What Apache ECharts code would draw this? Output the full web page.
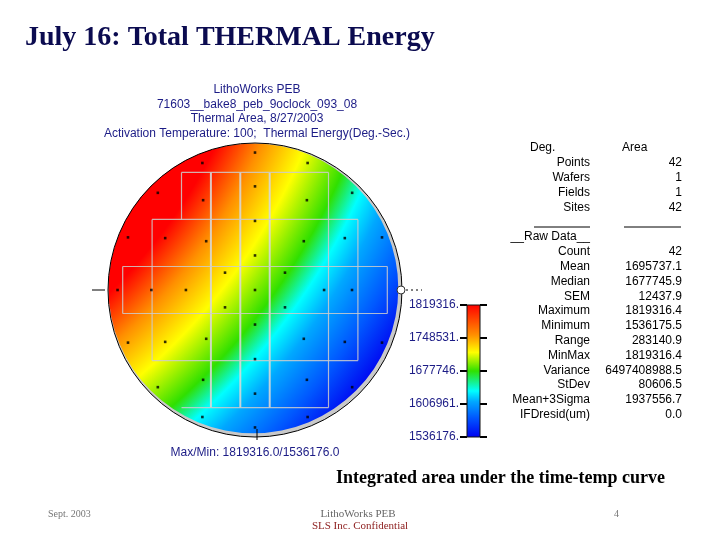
<!DOCTYPE html>
<html><head><meta charset="utf-8">
<script src="https://cdn.jsdelivr.net/npm/echarts@6/dist/echarts.min.js"></script>
<style>html,body{margin:0;padding:0;background:#fff}#c{width:720px;height:540px}</style>
</head><body><div id="c"></div>
<script>
// ---- data (wafer coordinates in mm, wafer radius 100) ----
const siteX = [0,
  20.4, 0, -20.4, -20.4, 0, 20.4,
  47, 33.2, 0, -33.2, -47, -33.2, 0, 33.2,
  66, 61.1, 35.3, 0, -35.3, -61.1, -70.5, -61.1, -35.3, 0, 35.3, 61.1,
  86.4, 66.1, 35.8, 0, -35.8, -66.1, -86.4, -93.5, -86.4, -66.1, -35.8, 0, 35.8, 66.1, 86.4];
const siteY = [0,
  11.8, 23.5, 11.8, -11.8, -23.5, -11.8,
  0, 33.2, 47, 33.2, 0, -33.2, -47, -33.2,
  0, 35.3, 61.1, 70.5, 61.1, 35.3, 0, -35.3, -61.1, -70.5, -61.1, -35.3,
  35.8, 66.1, 86.4, 93.5, 86.4, 66.1, 35.8, 0, -35.8, -66.1, -86.4, -93.5, -86.4, -66.1, -35.8];
const siteValues = [1693300,
  1680500, 1710600, 1721600, 1704900, 1672100, 1649400,
  1621100, 1680600, 1723000, 1748500, 1737200, 1700400, 1635300, 1612600,
  1598600, 1629600, 1697600, 1737200, 1774000, 1785300, 1757000, 1721600, 1674900, 1615400, 1590000, 1581500,
  1601300, 1649400, 1708900, 1748500, 1796700, 1819316.4, 1816000, 1785300, 1740000, 1700400, 1632400, 1592800, 1564500, 1536175.5, 1550300];

// field grid segments: vertical [x, y1, y2], horizontal [y, x1, x2]
const fieldVLines = [[-90,16,-16],[-70,48,-48],[-50,80,48],[-30,80,-80],[-10,80,-80],[10,80,-80],[50,80,-80],[70,48,-48],[90,16,-16]];
const fieldHLines = [[80,-50,50],[48,-70,70],[16,-90,90],[-16,-90,90],[-48,-70,70],[-80,-50,50]];

// colour scale (bottom -> top of colour bar)
const colorbarTickLabels = ['1536176.','1606961.','1677746.','1748531.','1819316.'];
const scaleColors = ['#0000f0','#0058ff','#00a8ff','#00ffff','#30e000','#ffff00','#ff9000','#ff0000'];
const scaleStops  = [0, 0.15, 0.27, 0.35, 0.5, 0.64, 0.77, 1];
// surface: distance (mm) from the gradient focus at which each scale colour lies
const surfaceFocus = [-347, 254];
const surfaceContourDist = [531, 503, 476, 459, 442, 412, 384, 356];

const titleText = 'July 16: Total THERMAL Energy';
const headerLines = ['LithoWorks PEB','71603__bake8_peb_9oclock_093_08','Thermal Area, 8/27/2003','Activation Temperature: 100;  Thermal Energy(Deg.-Sec.)'];
const statLabels = ['Points','Wafers','Fields','Sites','','__Raw Data__','Count','Mean','Median','SEM','Maximum','Minimum','Range','MinMax','Variance','StDev','Mean+3Sigma','IFDresid(um)'];
const statValues = ['42','1','1','42','','','42','1695737.1','1677745.9','12437.9','1819316.4','1536175.5','283140.9','1819316.4','6497408988.5','80606.5','1937556.7','0.0'];
const maxMinText = 'Max/Min: 1819316.0/1536176.0';
const captionText = 'Integrated area under the time-temp curve';
const footer = {date:'Sept. 2003', product:'LithoWorks PEB', conf:'SLS Inc. Confidential', page:'4'};

// ---- chart ----
const chart = echarts.init(document.getElementById('c'), null, {renderer:'canvas'});
const navy = '#1c1c86';
const gradR = surfaceContourDist[0];

function waferItem(params, api){
  const c = api.coord([0,0]);
  const r = api.size([100,0])[0];
  const f = api.coord(surfaceFocus);
  const gr = api.size([gradR,0])[0];
  const off = api.size([1.1,0])[0];
  const stops = [{offset:0, color:scaleColors[scaleColors.length-1]}];
  for (let i = surfaceContourDist.length-1; i >= 0; i--) {
    stops.push({offset: surfaceContourDist[i]/gradR, color: scaleColors[i]});
  }
  return {type:'group', children:[
    {type:'circle', shape:{cx:c[0], cy:c[1], r:r}, style:{fill:'#c9c9c9'}},
    {type:'circle', shape:{cx:c[0]-off, cy:c[1]-off, r:r-off*1.3},
      style:{fill:{type:'radial', x:f[0], y:f[1], r:gr, global:true, colorStops:stops}}},
    {type:'circle', shape:{cx:c[0], cy:c[1], r:r}, style:{fill:null, stroke:'#000', lineWidth:1}},
    {type:'circle', shape:{cx:c[0]+r-1, cy:c[1], r:4}, style:{fill:'#fff', stroke:'#333', lineWidth:1}},
    {type:'line', shape:{x1:c[0]-r-16, y1:c[1], x2:c[0]-r-3, y2:c[1]}, style:{stroke:'#000', lineWidth:1}},
    {type:'line', shape:{x1:c[0]+r+4, y1:c[1], x2:c[0]+r+20, y2:c[1]}, style:{stroke:'#000', lineWidth:1, lineDash:[2,3]}},
    {type:'line', shape:{x1:c[0]+2, y1:c[1]+r-8, x2:c[0]+2, y2:c[1]+r+3}, style:{stroke:'#000', lineWidth:1}}
  ]};
}

function fieldItem(params, api){
  const x1 = api.value(0), y1 = api.value(1), x2 = api.value(2), y2 = api.value(3);
  const p1 = api.coord([x1,y1]), p2 = api.coord([x2,y2]);
  const thick = (x1 === x2 && Math.abs(x1) <= 30 && x1 !== 30);
  return {type:'line', shape:{x1:p1[0], y1:p1[1], x2:p2[0], y2:p2[1]},
    style:{stroke: thick ? 'rgba(215,215,215,0.9)' : 'rgba(205,205,205,0.85)', lineWidth: thick ? 2 : 1.2}};
}

function barItem(params, api){
  const p1 = api.coord([0, api.value(1)]);
  const p2 = api.coord([1, api.value(2)]);
  const stops = scaleStops.map((s,i)=>({offset:s, color:scaleColors[i]}));
  return {type:'rect', shape:{x:p1[0], y:p2[1], width:p2[0]-p1[0], height:p1[1]-p2[1]},
    style:{fill:{type:'linear', x:0, y:1, x2:0, y2:0, colorStops:stops}, stroke:'#111', lineWidth:1}};
}

const fieldData = fieldVLines.map(s=>[s[0],s[1],s[0],s[2]]).concat(fieldHLines.map(s=>[s[1],s[0],s[2],s[0]]));
const siteData = siteX.map((x,i)=>[x, siteY[i], siteValues[i]]);

const sans = '"Liberation Sans", Arial, sans-serif';
const graphics = [];
graphics.push({type:'text', x:25, y:38, style:{text:titleText, font:'bold 28px "Liberation Serif", serif', fill:'#0b0b50', textVerticalAlign:'middle'}});
const headerY = [90,105,119,134];
headerLines.forEach((t,i)=>graphics.push({type:'text', x:257, y:headerY[i], style:{text:t, font:'12px ' + sans, fill:navy, textAlign:'center', textVerticalAlign:'middle'}}));
// stats table
graphics.push({type:'text', x:530, y:148, style:{text:'Deg.', font:'12px ' + sans, fill:'#000', textVerticalAlign:'middle'}});
graphics.push({type:'text', x:622, y:148, style:{text:'Area', font:'12px ' + sans, fill:'#000', textVerticalAlign:'middle'}});
statLabels.forEach((t,i)=>{
  const y = 163 + i*14.8;
  if (t) graphics.push({type:'text', x:590, y:y, style:{text:t, font:'12px ' + sans, fill:'#000', textAlign:'right', textVerticalAlign:'middle'}});
  if (statValues[i]) graphics.push({type:'text', x:682, y:y, style:{text:statValues[i], font:'12px ' + sans, fill:'#000', textAlign:'right', textVerticalAlign:'middle'}});
});
graphics.push({type:'line', shape:{x1:534, y1:227, x2:590, y2:227}, style:{stroke:'#000', lineWidth:1}});
graphics.push({type:'line', shape:{x1:624, y1:227, x2:681, y2:227}, style:{stroke:'#000', lineWidth:1}});
graphics.push({type:'text', x:255, y:453, style:{text:maxMinText, font:'12px ' + sans, fill:navy, textAlign:'center', textVerticalAlign:'middle'}});
graphics.push({type:'text', x:336, y:478, style:{text:captionText, font:'bold 18px "Liberation Serif", serif', fill:'#000', textVerticalAlign:'middle'}});
graphics.push({type:'text', x:48, y:514, style:{text:footer.date, font:'10px "Liberation Serif", serif', fill:'#777', textVerticalAlign:'middle'}});
graphics.push({type:'text', x:358, y:514, style:{text:footer.product, font:'11px "Liberation Serif", serif', fill:'#666', textAlign:'center', textVerticalAlign:'middle'}});
graphics.push({type:'text', x:360, y:526, style:{text:footer.conf, font:'11px "Liberation Serif", serif', fill:'#8b1a1a', textAlign:'center', textVerticalAlign:'middle'}});
graphics.push({type:'text', x:614, y:514, style:{text:footer.page, font:'10px "Liberation Serif", serif', fill:'#777', textVerticalAlign:'middle'}});

const option = {
  animation:false,
  backgroundColor:'#fff',
  grid:[
    {left:108, top:143, width:294, height:294},
    {left:467, top:305, width:13, height:132}
  ],
  xAxis:[
    {gridIndex:0, type:'value', min:-100, max:100, show:false},
    {gridIndex:1, type:'value', min:0, max:1, show:false}
  ],
  yAxis:[
    {gridIndex:0, type:'value', min:-100, max:100, show:false},
    {gridIndex:1, type:'value', min:0, max:colorbarTickLabels.length-1, interval:1, position:'left',
      axisLine:{show:false}, splitLine:{show:false},
      axisTick:{show:true, length:7, lineStyle:{color:'#000', width:2}},
      axisLabel:{formatter:(v)=>colorbarTickLabels[v], color:navy, fontSize:12, fontFamily:sans, margin:8}},
    {gridIndex:1, type:'value', min:0, max:colorbarTickLabels.length-1, interval:1, position:'right',
      axisLine:{show:false}, splitLine:{show:false},
      axisTick:{show:true, length:7, lineStyle:{color:'#000', width:2}},
      axisLabel:{show:false}}
  ],
  series:[
    {type:'custom', xAxisIndex:0, yAxisIndex:0, data:[[0,0]], encode:{x:0,y:1}, renderItem:waferItem, z:1, silent:true},
    {type:'custom', xAxisIndex:0, yAxisIndex:0, data:fieldData, encode:{x:[0,2], y:[1,3]}, renderItem:fieldItem, z:2, silent:true},
    {type:'scatter', xAxisIndex:0, yAxisIndex:0, data:siteData, symbol:'rect', symbolSize:2.6, itemStyle:{color:'#000'}, z:3},
    {type:'custom', xAxisIndex:1, yAxisIndex:1, data:[[0, 0, colorbarTickLabels.length-1]], encode:{x:0, y:[1,2]}, renderItem:barItem, z:2}
  ],
  graphic:graphics
};
chart.setOption(option);
</script></body></html>
